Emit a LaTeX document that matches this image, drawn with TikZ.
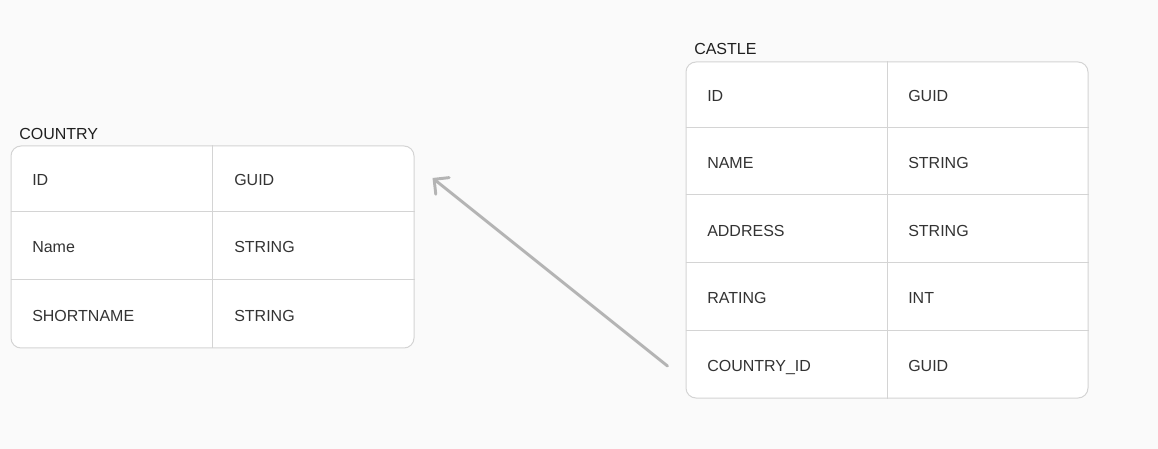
\documentclass[tikz,border=0pt]{standalone}
\usepackage{fontspec}
\setmainfont{Liberation Sans}
\usepackage{xcolor}
\usepackage{tikz}
\usetikzlibrary{positioning,calc}
\usetikzlibrary{arrows.meta}
\definecolor{bgcol}{HTML}{FAFAFA}
\definecolor{gridcol}{HTML}{D4D4D4}
\definecolor{txtcol}{HTML}{333333}
\definecolor{arrcol}{HTML}{B4B4B4}
\tikzstyle{tablebox} = [draw=gridcol, fill=white, rounded corners=7.5pt, line width=0.75pt, inner sep=0pt]
\tikzstyle{gridline} = [draw=gridcol, line width=0.75pt]
\tikzstyle{cell} = [anchor=base west, inner sep=0pt, text=txtcol, font=\fontsize{12}{14}\selectfont]
\tikzstyle{tabletitle} = [anchor=base west, inner sep=0pt, text=black!88, font=\fontsize{12}{14}\selectfont]
\tikzstyle{arrow} = [arrcol, line width=2.2pt, line cap=round, -{Straight Barb[length=8pt,width=16pt,line cap=round]}]

\begin{document}
\begin{tikzpicture}[x=0.75pt,y=-0.75pt]
    \fill[bgcol, use as bounding box] (0,0) rectangle (1158,449);

    % COUNTRY table
    \node[tablebox, minimum width=302.25pt, minimum height=151.5pt] (countrytab) at (212.5,247) {};
    \draw[gridline] (countrytab.north -| 212,0) -- (countrytab.south -| 212,0);
    \foreach \y in {212,280}
        \draw[gridline] (countrytab.west |- 0,\y) -- (countrytab.east |- 0,\y);
    \node[tabletitle] (countrytitle) at (19,140) {COUNTRY};
    \foreach \y/\k/\t [count=\i] in {186/ID/GUID, 253/Name/STRING, 321/SHORTNAME/STRING} {
        \node[cell] (co-k\i) at (32,\y) {\k};
        \node[cell] (co-t\i) at (234,\y) {\t};
    }

    % CASTLE table
    \node[tablebox, minimum width=301.5pt, minimum height=252pt] (castletab) at (887,230) {};
    \draw[gridline] (castletab.north -| 887,0) -- (castletab.south -| 887,0);
    \foreach \y in {128,195,263,331}
        \draw[gridline] (castletab.west |- 0,\y) -- (castletab.east |- 0,\y);
    \node[tabletitle] (castletitle) at (694,55) {CASTLE};
    \foreach \y/\k/\t [count=\i] in {102/ID/GUID, 169/NAME/STRING, 237/ADDRESS/STRING, 304/RATING/INT, 372/COUNTRY\_ID/GUID} {
        \node[cell] (ca-k\i) at (707,\y) {\k};
        \node[cell] (ca-t\i) at (908,\y) {\t};
    }

    % reference COUNTRY_ID -> ID
    \draw[arrow] ($(castletab.west |- ca-k5.base)+(-18,-6)$) -- ($(countrytab.east |- co-k1.base)+(18,-8)$);

\end{tikzpicture}
\end{document}
